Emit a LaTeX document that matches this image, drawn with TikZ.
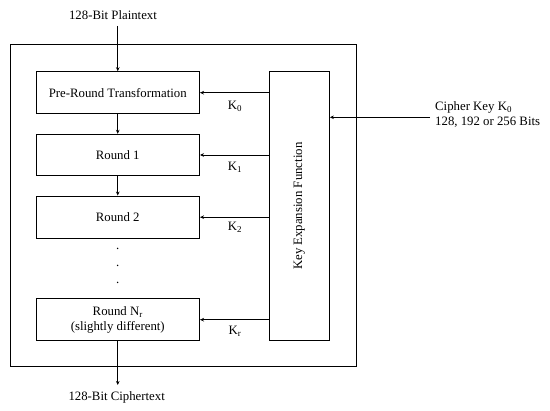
\documentclass[tikz,border=0pt]{standalone}
\usepackage{fontspec}
\setmainfont{Liberation Serif}
\usetikzlibrary{arrows.meta}
\begin{document}
\begin{tikzpicture}[x=1pt,y=-1pt,
  box/.style={draw,line width=1pt,minimum width=163.5pt,inner sep=0pt,align=center,font=\fontsize{12.8}{15}\selectfont},
  lbl/.style={inner sep=0pt,font=\fontsize{12.8}{15}\selectfont},
  arr/.style={line width=0.8pt,-{Stealth[length=4pt,width=3.6pt]}}]
\useasboundingbox (0,0) rectangle (550,411);
\node[draw,line width=1pt,minimum width=345.3pt,minimum height=322pt,inner sep=0pt] (outer) at (183.35,206) {};
\node[box,minimum height=42pt] (b0) at (117.75,92.7) {Pre-Round Transformation};
\node[box,minimum height=41.4pt] (b1) at (117.75,155) {Round 1};
\node[box,minimum height=42.3pt] (b2) at (117.75,217.2) {Round 2};
\node[box,minimum height=42pt] (bn) at (117.75,319.7) {Round N\textsubscript{r}\\(slightly different)};
\node[draw,line width=1pt,minimum width=60.3pt,minimum height=269pt,inner sep=0pt] (kef) at (299.2,206.2) {};
\node[lbl,rotate=90] (keft) at (299.2,206.2) {Key Expansion Function};
\node[lbl] (pt) at (113,15) {128-Bit Plaintext};
\node[lbl] (ct) at (116.7,397.7) {128-Bit Ciphertext};
\coordinate (ptend) at (117.75,26);
\coordinate (ctend) at (117.75,385);
\draw[arr] (ptend) -- (b0.north);
\draw[arr] (b0.south) -- (b1.north);
\draw[arr] (b1.south) -- (b2.north);
\draw[arr] (bn.south) -- (ctend);
\node[lbl] (d1) at (117.75,249) {.};
\node[lbl] (d2) at (117.75,266) {.};
\node[lbl] (d3) at (117.75,283) {.};
\draw[arr] (kef.west |- b0) -- (b0.east);
\draw[arr] (kef.west |- b1) -- (b1.east);
\draw[arr] (kef.west |- b2) -- (b2.east);
\draw[arr] (kef.west |- bn) -- (bn.east);
\node[lbl] (k0) at (235,106) {K\textsubscript{0}};
\node[lbl] (k1) at (235,167) {K\textsubscript{1}};
\node[lbl] (k2) at (235,227.7) {K\textsubscript{2}};
\node[lbl] (kr) at (235,331.7) {K\textsubscript{r}};
\node[lbl,anchor=west,align=left] (ck) at (435,115) {Cipher Key K\textsubscript{0}\\128, 192 or 256 Bits};
\coordinate (ckstart) at (430,117.3);
\draw[arr] (ckstart) -- (kef.east |- ckstart);
\end{tikzpicture}
\end{document}
